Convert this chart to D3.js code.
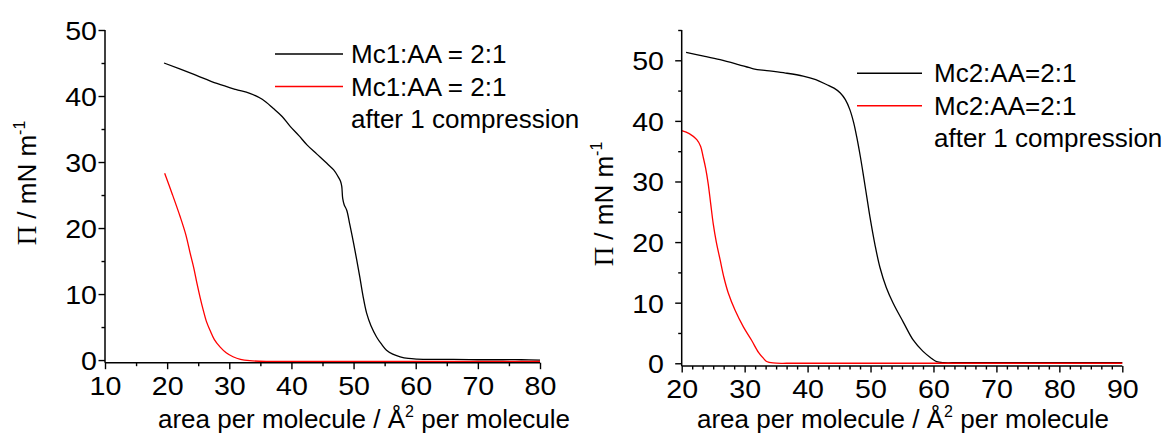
<!DOCTYPE html>
<html><head><meta charset="utf-8">
<script src="https://cdn.jsdelivr.net/npm/d3@7"></script>
<style>
body{margin:0;background:#fff;}
svg{display:block;}
text{font-family:"Liberation Sans",Arial,sans-serif;fill:#000;}
</style></head>
<body>
<svg id="c" width="1173" height="435"></svg>
<script>
// ---------- data ----------
const leftXTicks = [10,20,30,40,50,60,70,80];
const leftYTicks = [0,10,20,30,40,50];
const rightXTicks = [20,30,40,50,60,70,80,90];
const rightYTicks = [0,10,20,30,40,50];

const leftSeriesNames = ["Mc1:AA = 2:1", "Mc1:AA = 2:1"];
const rightSeriesNames = ["Mc2:AA=2:1", "Mc2:AA=2:1"];
const legendExtra = "after 1 compression";
const seriesColors = ["#000000", "#ff0000"];

const mc1Area = [19.5,24,28,31,33.3,35.3,37.1,38.5,39.8,41.2,42.5,44.1,45.7,46.8,47.5,47.9,48.1,48.25,48.5,48.9,49.4,50.0,50.5,51.0,51.5,52.1,52.8,53.7,54.5,55.3,56.3,57.5,58.8,60.2,63,66,70,74,77,80];
const mc1Pi   = [45.0,43.4,41.9,41.0,40.4,39.5,38.1,36.9,35.4,34.0,32.6,31.2,29.8,28.8,27.8,27.1,26.3,24.5,23.5,22.7,20.5,17.7,15.2,12.6,9.8,7.1,5.2,3.5,2.4,1.5,0.9,0.5,0.25,0.15,0.1,0.1,0.05,0.05,0.05,0.0];

const mc1cArea = [19.6,20.8,22.1,23.0,23.7,24.3,24.8,25.3,25.8,26.3,26.9,27.6,28.5,29.5,30.6,31.8,33.3,36,40,50,60,70,80];
const mc1cPi   = [28.3,25.2,21.7,19.0,16.2,13.9,11.6,9.5,7.6,5.9,4.5,3.1,2.0,1.1,0.5,0.1,-0.1,-0.2,-0.2,-0.2,-0.2,-0.2,-0.2];

const mc2Area = [20.7,23.5,26.1,29,31.4,33.5,36.5,39.3,41.3,43.0,44.2,45.2,46.0,46.7,47.3,47.8,48.4,48.9,49.4,49.9,50.7,51.5,52.5,53.6,55.2,56.8,58.3,59.7,60.5,61.6,64,70,80,90];
const mc2Pi   = [51.3,50.7,50.1,49.3,48.6,48.3,47.9,47.4,46.8,46.0,45.4,44.6,43.5,41.9,39.8,37.4,34.0,30.8,27.5,24.2,19.6,15.8,12.5,9.9,6.8,3.8,2.0,0.8,0.27,0.1,0.1,0.1,0.1,0.1];

const mc2cArea = [20.0,21.2,22.4,23.0,23.4,23.8,24.2,24.6,25.0,25.5,26.1,26.7,27.4,28.5,29.8,31.1,32.2,33.0,33.5,34.5,37,45,60,75,90];
const mc2cPi   = [38.4,37.9,36.9,35.8,34.1,32.2,29.7,26.4,23.1,20.0,17.1,14.2,11.6,8.7,6.0,3.8,1.8,0.8,0.3,0.05,0.0,0.0,0.0,0.0,0.0];

// ---------- drawing ----------
const svg = d3.select("#c");
const FS = 26, SX = 1.1;

function zip(a,b){return a.map((v,i)=>[v,b[i]]);}

function panel(cfg){
  const x = d3.scaleLinear().domain(cfg.xDomain).range(cfg.xRange);
  const y = d3.scaleLinear().domain(cfg.yDomain).range(cfg.yRange);
  const g = svg.append("g");

  // curves
  const line = d3.line().x(d=>x(d[0])).y(d=>y(d[1])).curve(d3.curveCatmullRom.alpha(0.5));
  cfg.series.forEach((s,i)=>{
    g.append("path").attr("d", line(zip(s[0],s[1])))
      .attr("fill","none").attr("stroke",seriesColors[i]).attr("stroke-width",1.3);
  });

  // x axis
  const xAxisY = cfg.yRange[0];
  const xMinor = g.append("g").attr("transform",`translate(0,${xAxisY})`)
    .call(d3.axisBottom(x).tickValues(cfg.xMinor).tickSize(3.5).tickFormat(""));
  const xMajor = g.append("g").attr("transform",`translate(0,${xAxisY})`)
    .call(d3.axisBottom(x).tickValues(cfg.xTicks).tickSize(6.5).tickPadding(0).tickFormat(d3.format("d")));
  [xMinor,xMajor].forEach(a=>{a.select(".domain").remove(); a.selectAll("line").attr("stroke","#000").attr("stroke-width",1.4);});
  xMajor.selectAll("text").attr("font-size",FS).attr("x",0).attr("y",0).attr("dy",0)
    .attr("transform",`translate(0,${cfg.xLabelBase - xAxisY}) scale(${SX},1)`)
    .style("font-family","'Liberation Sans',Arial,sans-serif");

  // y axis
  const yAxisX = cfg.xRange[0];
  const yMinor = g.append("g").attr("transform",`translate(${yAxisX},0)`)
    .call(d3.axisLeft(y).tickValues(cfg.yMinor).tickSize(3.5).tickFormat(""));
  const yMajor = g.append("g").attr("transform",`translate(${yAxisX},0)`)
    .call(d3.axisLeft(y).tickValues(cfg.yTicks).tickSize(6.5).tickFormat(d3.format("d")));
  [yMinor,yMajor].forEach(a=>{a.select(".domain").remove(); a.selectAll("line").attr("stroke","#000").attr("stroke-width",1.4);});
  yMajor.selectAll("text").attr("font-size",FS).attr("x",0).attr("dy","0.36em")
    .attr("transform",`translate(${cfg.yLabelRight - yAxisX},0) scale(${SX},1)`)
    .style("font-family","'Liberation Sans',Arial,sans-serif");

  // axis lines
  g.append("line").attr("x1",cfg.xRange[0]).attr("x2",cfg.xRange[1]).attr("y1",xAxisY).attr("y2",xAxisY)
    .attr("stroke","#000").attr("stroke-width",1.5);
  g.append("line").attr("x1",yAxisX).attr("x2",yAxisX).attr("y1",cfg.yRange[0]).attr("y2",cfg.yRange[1])
    .attr("stroke","#000").attr("stroke-width",1.5);

  // x title
  const xt = g.append("text").attr("x",cfg.xTitleX).attr("y",cfg.xTitleY).attr("font-size",26).attr("text-anchor","middle");
  xt.append("tspan").text("area per molecule / Å");
  xt.append("tspan").text("2").attr("font-size",16).attr("dy",-11);
  xt.append("tspan").text(" per molecule").attr("dy",11);

  // y title
  const yt = g.append("text").attr("transform",`translate(${cfg.yTitleX},${cfg.yTitleY}) rotate(-90)`)
    .attr("font-size",26).attr("text-anchor","middle");
  yt.append("tspan").text("Π").style("font-family","'Liberation Serif','Times New Roman',serif").attr("font-size",27);
  yt.append("tspan").text(" / mN m");
  yt.append("tspan").text("-1").attr("font-size",16).attr("dy",-11);

  // legend
  const L = cfg.legend;
  cfg.names.forEach((n,i)=>{
    const ly = L.y + i*L.dy;
    g.append("line").attr("x1",L.x1).attr("x2",L.x2).attr("y1",ly).attr("y2",ly)
      .attr("stroke",seriesColors[i]).attr("stroke-width",1.5);
    g.append("text").attr("x",L.tx).attr("y",ly+9).attr("font-size",26).text(n);
  });
  g.append("text").attr("x",L.tx).attr("y",L.y+2*L.dy+9).attr("font-size",26).text(legendExtra);
}

panel({
  xDomain:[10,80], xRange:[105,540],
  yDomain:[-0.4,50], yRange:[362.7,30],
  xTicks:leftXTicks, xMinor:d3.range(15,80,10),
  yTicks:leftYTicks, yMinor:d3.range(5,50,10),
  xLabelBase:395, yLabelRight:97,
  xTitleX:364, xTitleY:428,
  yTitleX:36, yTitleY:183,
  names:leftSeriesNames,
  legend:{x1:275,x2:343,tx:351,y:54,dy:32.5},
  series:[[mc1Area,mc1Pi],[mc1cArea,mc1cPi]]
});

panel({
  xDomain:[20,90], xRange:[681.7,1122.3],
  yDomain:[-0.45,55], yRange:[366,30],
  xTicks:rightXTicks, xMinor:d3.range(0,42).map(i=>20+i*10/6).filter(v=>Math.abs(v/10-Math.round(v/10))>0.01),
  yTicks:rightYTicks, yMinor:d3.range(5,56,10),
  xLabelBase:398, yLabelRight:664,
  xTitleX:903, xTitleY:428,
  yTitleX:613, yTitleY:204,
  names:rightSeriesNames,
  legend:{x1:857,x2:922,tx:934,y:73.3,dy:32.5},
  series:[[mc2Area,mc2Pi],[mc2cArea,mc2cPi]]
});
</script>
</body></html>
